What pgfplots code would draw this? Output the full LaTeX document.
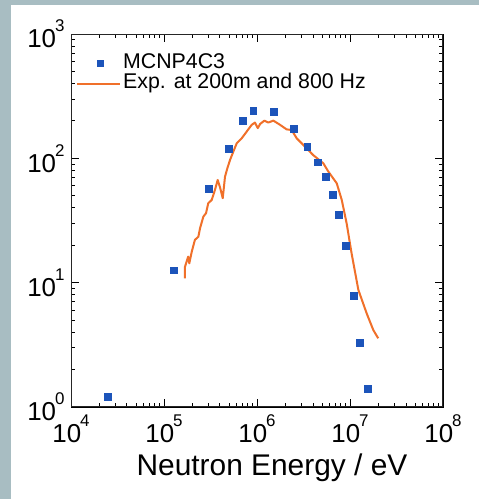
\documentclass[border=0pt]{standalone}
\usepackage{fontspec}
\setmainfont{Liberation Sans}
\usepackage{pgfplots}
\pgfplotsset{compat=1.18}
\definecolor{mcnp}{RGB}{28,84,186}
\definecolor{expline}{RGB}{240,112,42}
\definecolor{slide}{RGB}{168,189,194}
% 10^n written in the text font
\newcommand{\dec}[1]{10\kern-0.04em\raisebox{0.62em}{\fontsize{17}{17}\selectfont #1}}
\pgfplotsset{
 marklegend/.style={legend image code/.code={\path[draw=none] (6bp,0) -- (49bp,0);
  \draw[##1, mark size=2.8bp] plot coordinates {(29bp,0)};}},
 linelegend/.style={legend image code/.code={\draw[##1] (6bp,0) -- (49bp,0);}},
}

\begin{document}
\begin{tikzpicture}
\fill[white] (0bp,0bp) rectangle (479bp,499bp);
\fill[slide] (0bp,0bp) rectangle (11bp,499bp);
\fill[slide] (0bp,494bp) rectangle (479bp,499bp);
\path[use as bounding box] (0bp,0bp) rectangle (479bp,499bp);
\begin{axis}[
 at={(71bp,92bp)}, anchor=south west,
 scale only axis, width=372bp, height=373bp,
 xmode=log, ymode=log,
 xmin=1e4, xmax=1e8, ymin=1, ymax=1e3,
 xtick={1e4,1e5,1e6,1e7,1e8},
 xticklabels={\dec{4},\dec{5},\dec{6},\dec{7},\dec{8}},
 ytick={1,10,100,1000},
 yticklabels={\dec{0},\dec{1},\dec{2},\dec{3}},
 tick label style={font=\fontsize{26}{26}\selectfont},
 xticklabel style={yshift=-4bp},
 yticklabel style={xshift=-3bp},
 xtick style={black, line width=1bp},
 ytick style={black, line width=1bp},
 major tick length=8bp, minor tick length=4.5bp,
 xlabel={Neutron Energy / eV},
 xlabel style={font=\fontsize{30}{30}\selectfont, xshift=15bp, yshift=-4bp},
 legend cell align=left,
 legend style={at={(0,1)}, anchor=north west, xshift=5bp, yshift=-18bp,
  draw=none, fill=none, inner sep=0pt, row sep=-1.5bp,
  font=\fontsize{21.4}{23}\selectfont,
  nodes={text height=14bp, text depth=4bp, inner sep=2bp}},
]
\addplot[only marks, mark=square*, mark size=3.4bp, color=mcnp, marklegend]
coordinates {
 (2.5e4,1.21) (1.26e5,12.6) (3.0e5,57) (5.0e5,119) (6.95e5,200)
 (9.1e5,240) (1.52e6,238) (2.5e6,172) (3.47e6,124) (4.49e6,93)
 (5.52e6,71) (6.46e6,51) (7.55e6,35) (9.06e6,19.7) (1.1e7,7.86)
 (1.28e7,3.29) (1.55e7,1.40)};
\addplot[expline, line width=2bp, line join=round, linelegend]
coordinates {
 (1.68e5,10.85) (1.68e5,13.4) (1.82e5,16.2) (1.87e5,14.3) (1.99e5,17.8)
 (2.15e5,22.1) (2.34e5,23.4) (2.44e5,27.4) (2.65e5,34.0) (2.83e5,36.2)
 (2.99e5,43.5) (3.26e5,46.3) (3.53e5,55.7) (3.78e5,67.0) (4.0e5,58.5)
 (4.28e5,47.8) (4.53e5,71.3) (4.80e5,83.2) (5.13e5,97.1) (5.56e5,113)
 (6.05e5,132) (6.85e5,145) (7.74e5,164) (8.77e5,186) (9.51e5,194)
 (1.02e6,175) (1.08e6,189) (1.20e6,201) (1.32e6,194) (1.50e6,201)
 (1.77e6,186) (2.08e6,171) (2.36e6,169) (2.67e6,145) (3.15e6,128)
 (4.03e6,106) (5.16e6,91.3) (5.85e6,78.2) (7.2e6,63.0) (8.15e6,46.3)
 (9.2e6,30.0) (1.04e7,17.2) (1.23e7,8.74) (1.51e7,5.67) (1.78e7,4.16)
 (2.01e7,3.57)};
\legend{MCNP4C3, Exp. at 200m and 800 Hz}
% heavier frame, as in the reference
\draw[black!85, line width=1.5bp] (rel axis cs:0,0) rectangle (rel axis cs:1,1);
\end{axis}
\end{tikzpicture}
\end{document}
